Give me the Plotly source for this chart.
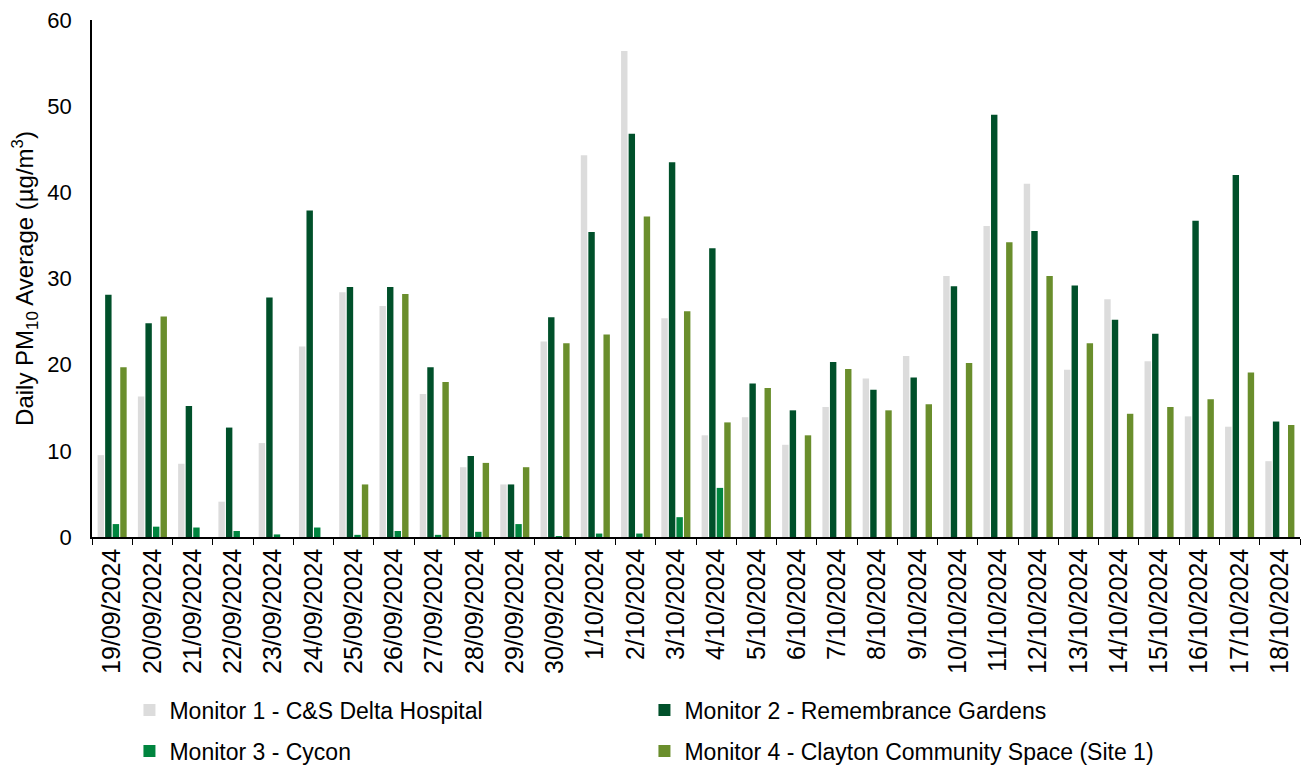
import plotly.graph_objects as go

dates = ["19/09/2024", "20/09/2024", "21/09/2024", "22/09/2024", "23/09/2024", "24/09/2024",
         "25/09/2024", "26/09/2024", "27/09/2024", "28/09/2024", "29/09/2024", "30/09/2024",
         "1/10/2024", "2/10/2024", "3/10/2024", "4/10/2024", "5/10/2024", "6/10/2024",
         "7/10/2024", "8/10/2024", "9/10/2024", "10/10/2024", "11/10/2024", "12/10/2024",
         "13/10/2024", "14/10/2024", "15/10/2024", "16/10/2024", "17/10/2024", "18/10/2024"]

monitor1 = [9.5, 16.3, 8.5, 4.1, 10.9, 22.1, 28.4, 26.8, 16.6, 8.1, 6.1, 22.7,
            44.3, 56.4, 25.4, 11.8, 13.9, 10.7, 15.1, 18.4, 21.0, 30.3, 36.1, 41.0,
            19.4, 27.6, 20.4, 14.0, 12.8, 8.8]
monitor2 = [28.1, 24.8, 15.2, 12.7, 27.8, 37.9, 29.0, 29.0, 19.7, 9.4, 6.1, 25.5,
            35.4, 46.8, 43.5, 33.5, 17.8, 14.7, 20.3, 17.1, 18.5, 29.1, 49.0, 35.5,
            29.2, 25.2, 23.6, 36.7, 42.0, 13.4]
monitor3 = [1.5, 1.2, 1.1, 0.7, 0.3, 1.1, 0.25, 0.7, 0.25, 0.6, 1.5, 0.1,
            0.4, 0.4, 2.3, 5.7, None, None, None, None, None, None, None, None,
            None, None, None, None, None, None]
monitor4 = [19.7, 25.6, None, None, None, None, 6.1, 28.2, 18.0, 8.6, 8.1, 22.5,
            23.5, 37.2, 26.2, 13.3, 17.3, 11.8, 19.5, 14.7, 15.4, 20.2, 34.2, 30.3,
            22.5, 14.3, 15.1, 16.0, 19.1, 13.0]

series = [
    ("Monitor 1 - C&S Delta Hospital", monitor1, "#DCDCDC", "legend"),
    ("Monitor 2 - Remembrance Gardens", monitor2, "#00502A", "legend"),
    ("Monitor 3 - Cycon", monitor3, "#00853F", "legend2"),
    ("Monitor 4 - Clayton Community Space (Site 1)", monitor4, "#6A8E2C", "legend2"),
]

fig = go.Figure()
for name, vals, color, leg in series:
    fig.add_trace(go.Bar(x=dates, y=vals, name=name, marker_color=color,
                         marker_line_width=0, legend=leg))

# page body has an 8px margin, so the figure is 8px smaller than the window
W, H = 1301, 759
font = "Liberation Sans, Arial, sans-serif"
legend_common = dict(orientation="h", xanchor="left", yanchor="middle", yref="container",
                     font=dict(family=font, size=23, color="#000"),
                     entrywidth=470, entrywidthmode="pixels",
                     bgcolor="rgba(0,0,0,0)", itemclick=False)

fig.update_layout(
    width=W, height=H,
    margin=dict(l=84, r=9, t=12, b=230),
    paper_bgcolor="white", plot_bgcolor="white",
    barmode="group", bargap=0.25, bargroupgap=0.15,
    font=dict(family=font, size=22, color="#000"),
    legend=dict(x=0.031, y=1 - 702 / H, **legend_common),
    legend2=dict(x=0.031, y=1 - 743 / H, **legend_common),
    xaxis=dict(type="category", showline=True, linecolor="#000", linewidth=1.5,
               ticks="outside", tickson="boundaries", ticklen=6, tickcolor="#000",
               tickangle=-90, tickfont=dict(size=25), showgrid=False, automargin=False),
    yaxis=dict(range=[0, 60], dtick=10, showline=True, linecolor="#000", linewidth=1.5,
               showgrid=False, zeroline=False, ticks="", tickfont=dict(size=22),
               ticklabelstandoff=14, ticklabeloverflow="allow", automargin=False,
               title=dict(text="Daily PM<sub>10</sub> Average (µg/m<sup>3</sup>)",
                          font=dict(size=24), standoff=12)),
)

fig.write_html("out.html")
